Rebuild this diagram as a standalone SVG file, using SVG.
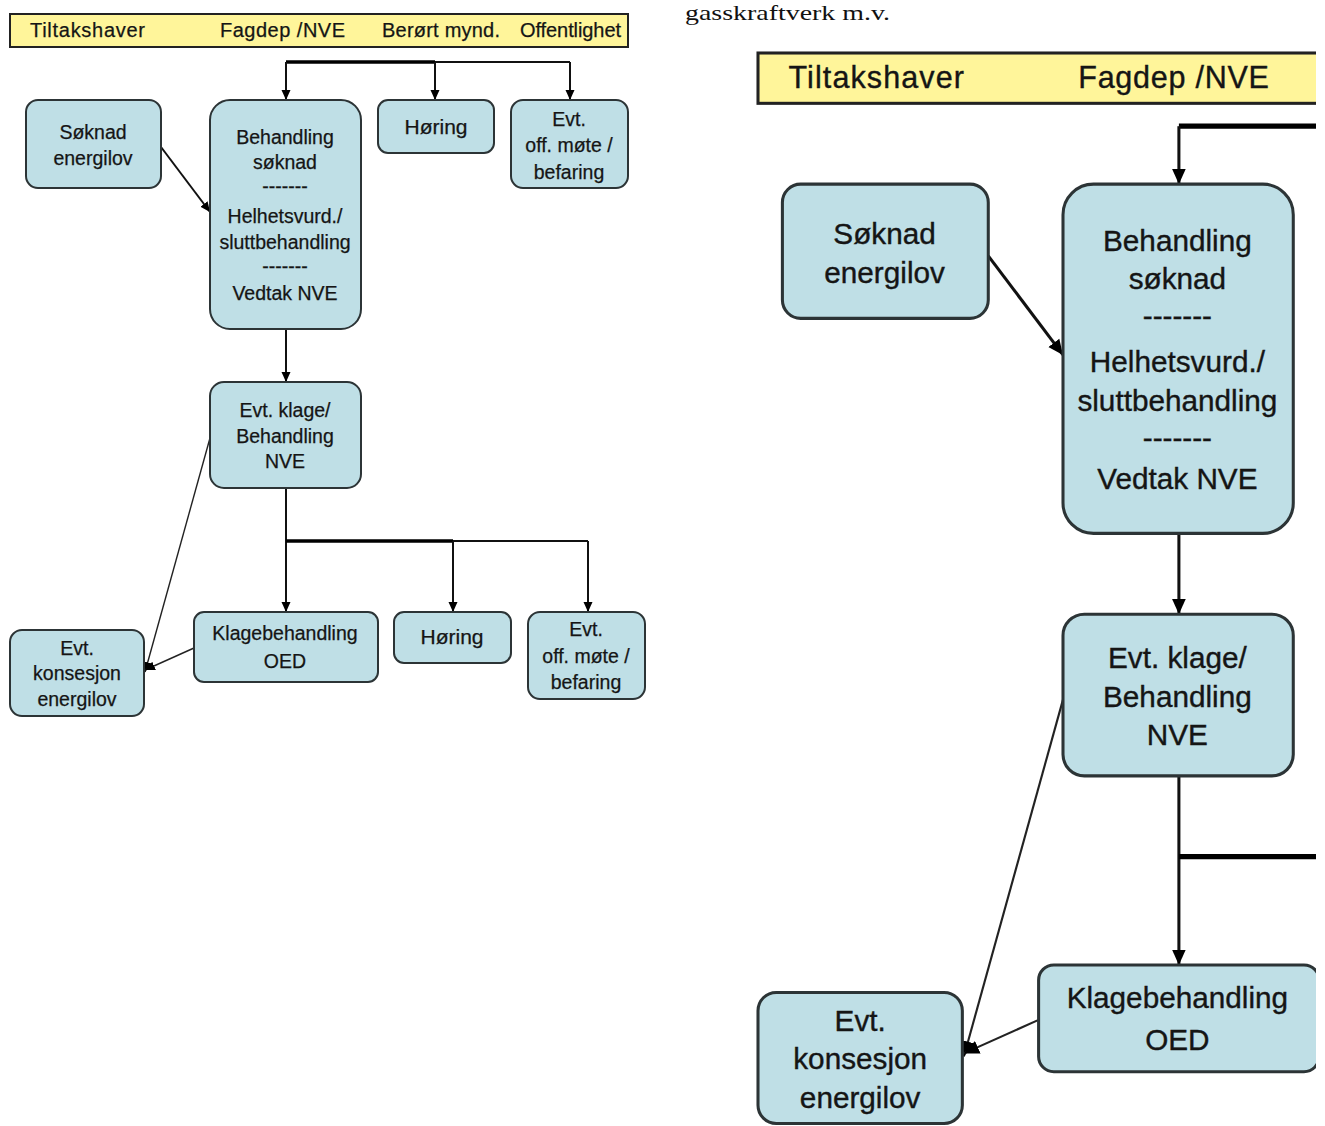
<svg xmlns="http://www.w3.org/2000/svg" width="1325" height="1126" viewBox="0 0 1325 1126">
<style>
.bg{fill:#ffffff}
.bar{fill:#FFF59A;stroke:#222;stroke-width:2}
.box{fill:#BFDFE6;stroke:#2c3436;stroke-width:2}
.t{font-family:"Liberation Sans","DejaVu Sans",sans-serif;font-size:19.5px;text-anchor:middle;fill:#151515;stroke:#151515;stroke-width:0.25}
.h{font-family:"Liberation Sans","DejaVu Sans",sans-serif;font-size:20px;fill:#151515;stroke:#151515;stroke-width:0.25}
.big{font-size:21px}
.ln{fill:none;stroke:#111;stroke-width:2}
.thin{fill:none;stroke:#222;stroke-width:1.4}
.thick{fill:none;stroke:#000;stroke-width:3.5}
.cap{font-family:"Liberation Serif","DejaVu Serif",serif;font-size:22px;fill:#111}
</style>
<defs>
<marker id="ah" viewBox="0 0 10 10" refX="10" refY="5" markerWidth="10" markerHeight="10" markerUnits="userSpaceOnUse" orient="auto">
<path d="M0,0.5 L10,5 L0,9.5 z" fill="#000"/>
</marker>
<clipPath id="rclip"><rect x="740" y="40" width="576" height="1086"/></clipPath>
</defs>
<rect class="bg" x="0" y="0" width="1325" height="1126"/>

<!-- LEFT DIAGRAM -->
<g id="left">
<g id="header">
<rect class="bar" x="10" y="14" width="618" height="33"/>
<text class="h" x="30" y="37" textLength="115">Tiltakshaver</text>
<text class="h" x="220" y="37" textLength="125">Fagdep /NVE</text>
<text class="h" x="382" y="37" textLength="118">Berørt mynd.</text>
<text class="h" x="520" y="37" textLength="101">Offentlighet</text>
</g>
<g id="connectors">
<path class="thick" d="M286,62 H435"/>
<path class="ln" d="M435,62 H570"/>
<path class="ln" d="M286,62 V100" marker-end="url(#ah)"/>
<path class="ln" d="M435,62 V100" marker-end="url(#ah)"/>
<path class="ln" d="M570,62 V100" marker-end="url(#ah)"/>
<path class="ln" d="M161,147 L210,212" marker-end="url(#ah)"/>
<path class="ln" d="M286,329 V382" marker-end="url(#ah)"/>
<path class="ln" d="M286,488 V612" marker-end="url(#ah)"/>
<path class="thick" d="M286,541 H453"/>
<path class="ln" d="M453,541 H588"/>
<path class="ln" d="M453,541 V612" marker-end="url(#ah)"/>
<path class="ln" d="M588,541 V612" marker-end="url(#ah)"/>
<path class="thin" d="M210,438 L145,672" marker-end="url(#ah)"/>
<path class="thin" d="M194,648 L145,670" marker-end="url(#ah)"/>
</g>
<g id="soknad">
<rect class="box" x="26" y="100" width="135" height="88" rx="12"/>
<text class="t" x="93" y="139">Søknad</text>
<text class="t" x="93" y="165">energilov</text>
</g>
<g id="behandling">
<rect class="box" x="210" y="100" width="151" height="229" rx="20"/>
<text class="t" x="285" y="144">Behandling</text>
<text class="t" x="285" y="169">søknad</text>
<text class="t" x="285" y="193">-------</text>
<text class="t" x="285" y="223">Helhetsvurd./</text>
<text class="t" x="285" y="249">sluttbehandling</text>
<text class="t" x="285" y="273">-------</text>
<text class="t" x="285" y="300">Vedtak NVE</text>
</g>
<g id="horing1">
<rect class="box" x="378" y="100" width="116" height="53" rx="10"/>
<text class="t big" x="436" y="134">Høring</text>
</g>
<g id="mote1">
<rect class="box" x="511" y="100" width="117" height="88" rx="12"/>
<text class="t" x="569" y="126">Evt.</text>
<text class="t" x="569" y="152">off. møte /</text>
<text class="t" x="569" y="179">befaring</text>
</g>
<g id="klage">
<rect class="box" x="210" y="382" width="151" height="106" rx="14"/>
<text class="t" x="285" y="417">Evt. klage/</text>
<text class="t" x="285" y="443">Behandling</text>
<text class="t" x="285" y="468">NVE</text>
</g>
<g id="klagebehandling">
<rect class="box" x="194" y="612" width="184" height="70" rx="10"/>
<text class="t" x="285" y="640">Klagebehandling</text>
<text class="t" x="285" y="668">OED</text>
</g>
<g id="horing2">
<rect class="box" x="394" y="612" width="117" height="51" rx="10"/>
<text class="t big" x="452" y="644">Høring</text>
</g>
<g id="mote2">
<rect class="box" x="528" y="612" width="117" height="87" rx="12"/>
<text class="t" x="586" y="636">Evt.</text>
<text class="t" x="586" y="663">off. møte /</text>
<text class="t" x="586" y="689">befaring</text>
</g>
<g id="konsesjon">
<rect class="box" x="10" y="630" width="134" height="86" rx="12"/>
<text class="t" x="77" y="655">Evt.</text>
<text class="t" x="77" y="680">konsesjon</text>
<text class="t" x="77" y="706">energilov</text>
</g>
</g>

<!-- CAPTION -->
<text class="cap" x="685" y="20" textLength="205" lengthAdjust="spacingAndGlyphs">gasskraftverk m.v.</text>

<!-- RIGHT ENLARGED DIAGRAM -->
<g clip-path="url(#rclip)">
<g id="right" transform="matrix(1.525 0 0 1.525 742.75 31.65)">
<g id="r-header">
<rect class="bar" x="10" y="14" width="618" height="33"/>
<text class="h" x="30" y="37" textLength="115">Tiltakshaver</text>
<text class="h" x="220" y="37" textLength="125">Fagdep /NVE</text>
</g>
<g id="r-connectors">
<path class="thick" d="M286,62 H435"/>
<path class="ln" d="M286,62 V100" marker-end="url(#ah)"/>
<path class="ln" d="M161,147 L210,212" marker-end="url(#ah)"/>
<path class="ln" d="M286,329 V382" marker-end="url(#ah)"/>
<path class="ln" d="M286,488 V612" marker-end="url(#ah)"/>
<path class="thick" d="M286,541 H453"/>
<path class="thin" d="M210,438 L145,672" marker-end="url(#ah)"/>
<path class="thin" d="M194,648 L145,670" marker-end="url(#ah)"/>
</g>
<g id="r-soknad">
<rect class="box" x="26" y="100" width="135" height="88" rx="12"/>
<text class="t" x="93" y="139">Søknad</text>
<text class="t" x="93" y="165">energilov</text>
</g>
<g id="r-behandling">
<rect class="box" x="210" y="100" width="151" height="229" rx="20"/>
<text class="t" x="285" y="144">Behandling</text>
<text class="t" x="285" y="169">søknad</text>
<text class="t" x="285" y="193">-------</text>
<text class="t" x="285" y="223">Helhetsvurd./</text>
<text class="t" x="285" y="249">sluttbehandling</text>
<text class="t" x="285" y="273">-------</text>
<text class="t" x="285" y="300">Vedtak NVE</text>
</g>
<g id="r-klage">
<rect class="box" x="210" y="382" width="151" height="106" rx="14"/>
<text class="t" x="285" y="417">Evt. klage/</text>
<text class="t" x="285" y="443">Behandling</text>
<text class="t" x="285" y="468">NVE</text>
</g>
<g id="r-klagebehandling">
<rect class="box" x="194" y="612" width="184" height="70" rx="10"/>
<text class="t" x="285" y="640">Klagebehandling</text>
<text class="t" x="285" y="668">OED</text>
</g>
<g id="r-konsesjon">
<rect class="box" x="10" y="630" width="134" height="86" rx="12"/>
<text class="t" x="77" y="655">Evt.</text>
<text class="t" x="77" y="680">konsesjon</text>
<text class="t" x="77" y="706">energilov</text>
</g>
</g>
</g>
</svg>
